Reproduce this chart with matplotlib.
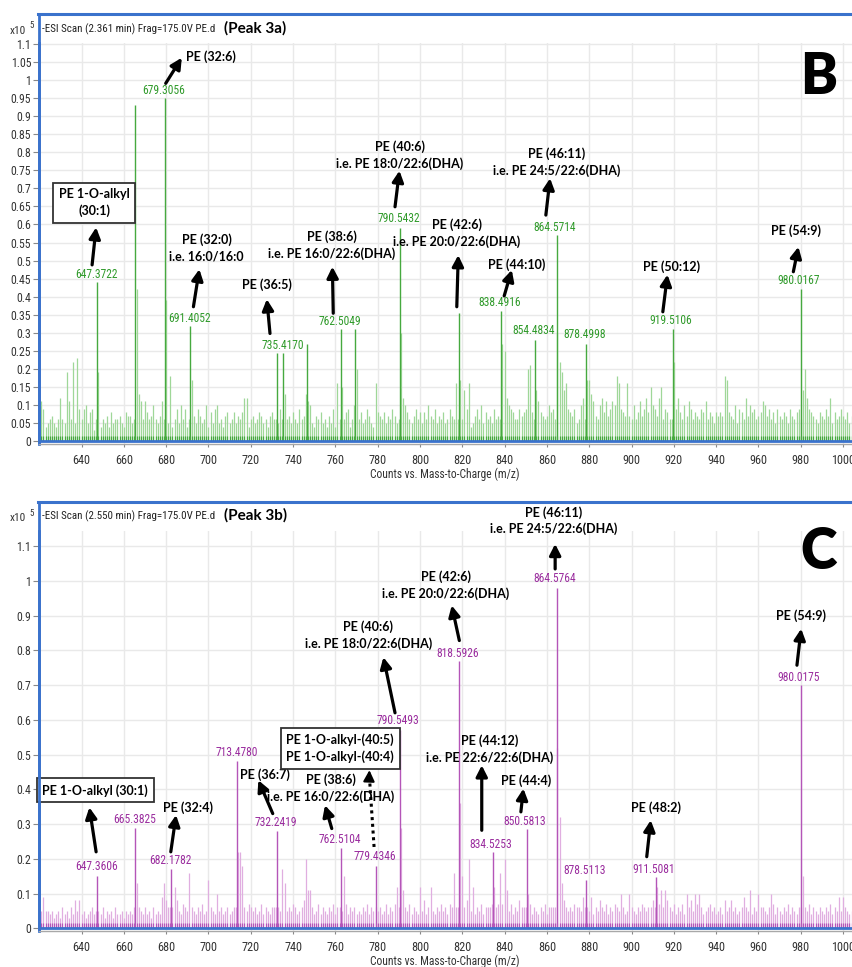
import matplotlib
matplotlib.use('Agg')
import matplotlib.pyplot as plt
from matplotlib import font_manager
from matplotlib.lines import Line2D
from matplotlib.ticker import FuncFormatter

# ---------------- DATA ----------------
noise_first_mz = 621   # nominal mass of first noise entry (one entry per nominal mass)

# Panel B (Peak 3a) background/noise peak heights, in units of 0.01 x10^5 counts, m/z 621..1004
noise_B = [
    11, 9, 4, 5, 6, 7, 5, 4, 6, 12,
    6, 5, 19, 11, 6, 22, 5, 23, 9, 6,
    9, 10, 5, 8, 9, 3, 6, 19, 4, 6,
    5, 7, 4, 8, 5, 6, 6, 7, 5, 4,
    8, 7, 7, 5, 6, 42, 13, 11, 6, 11,
    8, 6, 7, 10, 6, 5, 7, 11, 6, 39,
    5, 18, 4, 6, 9, 5, 10, 6, 9, 4,
    6, 17, 7, 5, 9, 7, 5, 6, 10, 4,
    8, 5, 9, 10, 5, 6, 4, 7, 8, 5,
    6, 8, 5, 7, 6, 8, 12, 12, 4, 6,
    7, 5, 6, 8, 7, 5, 6, 4, 7, 8,
    6, 6, 5, 9, 6, 13, 6, 7, 5, 8,
    6, 5, 9, 6, 7, 13, 11, 10, 5, 4,
    7, 6, 8, 5, 6, 4, 7, 5, 9, 4,
    16, 6, 15, 6, 8, 9, 4, 6, 10, 20,
    6, 8, 5, 6, 9, 7, 5, 4, 16, 8,
    7, 6, 8, 5, 7, 6, 9, 7, 5, 6,
    30, 12, 10, 8, 6, 5, 7, 9, 6, 8,
    5, 8, 6, 10, 7, 6, 9, 5, 7, 6,
    8, 5, 6, 9, 7, 6, 16, 6, 17, 6,
    14, 9, 16, 4, 5, 7, 9, 6, 10, 5,
    8, 6, 7, 5, 9, 6, 7, 6, 27, 25,
    12, 10, 9, 8, 6, 6, 9, 7, 8, 9,
    20, 21, 8, 6, 14, 11, 8, 7, 6, 7,
    10, 8, 9, 6, 30, 22, 19, 14, 16, 9,
    8, 7, 9, 5, 6, 10, 12, 6, 17, 17,
    13, 11, 7, 6, 10, 12, 8, 11, 7, 9,
    11, 10, 18, 16, 9, 8, 7, 16, 7, 6,
    10, 6, 8, 11, 7, 9, 12, 8, 15, 10,
    9, 7, 12, 15, 6, 9, 8, 6, 6, 22,
    9, 12, 8, 6, 10, 7, 11, 9, 6, 8,
    7, 6, 9, 8, 11, 6, 8, 7, 5, 8,
    7, 8, 7, 18, 17, 8, 7, 6, 10, 5,
    9, 8, 6, 12, 7, 10, 8, 9, 6, 7,
    8, 11, 10, 7, 9, 6, 8, 5, 9, 7,
    6, 8, 7, 5, 9, 7, 6, 8, 9, 6,
    14, 20, 12, 9, 8, 7, 6, 5, 8, 7,
    6, 9, 7, 12, 5, 8, 6, 7, 9, 7,
    6, 8, 5, 7,
]

# Panel C (Peak 3b) background/noise peak heights, same units, m/z 621..1004
noise_C = [
    5, 9, 5, 5, 4, 5, 3, 4, 5, 3,
    6, 4, 5, 3, 6, 4, 8, 5, 8, 4,
    5, 3, 4, 5, 6, 4, 5, 5, 4, 6,
    3, 5, 4, 5, 3, 6, 4, 4, 5, 3,
    5, 4, 5, 4, 6, 13, 6, 5, 4, 6,
    4, 5, 3, 6, 4, 5, 4, 9, 13, 8,
    6, 6, 6, 12, 8, 5, 4, 7, 6, 5,
    16, 6, 5, 4, 6, 5, 7, 4, 5, 14,
    6, 5, 4, 10, 5, 6, 4, 5, 6, 4,
    5, 6, 6, 22, 22, 18, 6, 5, 7, 6,
    5, 6, 4, 5, 7, 4, 6, 5, 4, 6,
    6, 6, 6, 5, 17, 13, 5, 6, 5, 7,
    6, 4, 5, 6, 8, 20, 11, 11, 6, 4,
    5, 7, 4, 6, 5, 4, 6, 5, 7, 4,
    6, 6, 5, 15, 7, 4, 6, 5, 6, 4,
    5, 4, 6, 5, 7, 4, 6, 5, 6, 5,
    6, 4, 5, 7, 4, 6, 5, 7, 12, 6,
    29, 11, 6, 5, 7, 4, 6, 5, 4, 12,
    5, 8, 4, 6, 12, 5, 4, 6, 5, 7,
    5, 6, 4, 7, 6, 16, 6, 6, 36, 15,
    6, 8, 20, 5, 12, 4, 6, 5, 7, 4,
    6, 6, 6, 7, 12, 6, 7, 16, 7, 20,
    11, 5, 7, 4, 6, 5, 8, 6, 6, 6,
    10, 7, 4, 6, 5, 4, 6, 5, 7, 4,
    6, 6, 6, 6, 52, 32, 13, 8, 6, 5,
    6, 5, 7, 6, 6, 5, 9, 6, 6, 5,
    9, 4, 6, 5, 8, 6, 5, 7, 4, 6,
    5, 7, 6, 5, 10, 6, 4, 5, 10, 6,
    5, 4, 6, 5, 7, 6, 5, 6, 6, 8,
    6, 12, 7, 11, 6, 11, 8, 6, 5, 7,
    4, 6, 5, 7, 4, 10, 6, 8, 5, 10,
    7, 10, 6, 4, 5, 6, 7, 5, 6, 4,
    5, 6, 4, 8, 5, 6, 8, 5, 6, 4,
    5, 6, 9, 6, 5, 11, 4, 6, 5, 10,
    6, 6, 5, 4, 6, 10, 7, 4, 6, 5,
    4, 6, 5, 7, 4, 6, 5, 4, 6, 6,
    15, 6, 5, 7, 4, 6, 5, 4, 6, 5,
    4, 6, 5, 7, 4, 6, 5, 9, 5, 9,
    6, 5, 4, 5,
]

# Main peaks (m/z, intensity x10^5) and whether their m/z is printed
peaks_B_mz = [647.3722, 665.40, 679.3056, 691.4052, 732.50, 735.4170, 746.60,
              762.5049, 769.50, 790.5432, 818.60, 838.4916, 854.4834, 864.5714,
              878.4998, 919.5106, 980.0167]
peaks_B_h = [0.44, 0.93, 0.95, 0.32, 0.245, 0.245, 0.27,
             0.31, 0.31, 0.59, 0.355, 0.36, 0.28, 0.57,
             0.27, 0.31, 0.42]
peaks_B_labeled = [True, False, True, True, False, True, False,
                   True, False, True, False, True, True, True,
                   True, True, True]

peaks_C_mz = [647.3606, 665.3825, 682.1782, 713.4780, 732.2419, 762.5104, 779.4346,
              790.5493, 818.5926, 834.5253, 850.5813, 864.5764, 878.5113, 911.5081,
              980.0175]
peaks_C_h = [0.15, 0.29, 0.17, 0.48, 0.28, 0.23, 0.18,
             0.57, 0.77, 0.22, 0.285, 0.98, 0.14, 0.147,
             0.70]
peaks_C_labeled = [True] * 15

x_ticks = [640, 660, 680, 700, 720, 740, 760, 780, 800, 820, 840, 860, 880, 900,
           920, 940, 960, 980, 1000]
y_ticks_B = [0, 0.05, 0.1, 0.15, 0.2, 0.25, 0.3, 0.35, 0.4, 0.45, 0.5, 0.55, 0.6,
             0.65, 0.7, 0.75, 0.8, 0.85, 0.9, 0.95, 1, 1.05, 1.1]
y_ticks_C = [0, 0.1, 0.2, 0.3, 0.4, 0.5, 0.6, 0.7, 0.8, 0.9, 1, 1.1]

# --------------- STYLE / LAYOUT ---------------
available = {f.name for f in font_manager.fontManager.ttflist}
def pick(*names):
    for n in names:
        if n in available:
            return n
    return 'DejaVu Sans'
NARROW = pick('Liberation Sans Narrow', 'Arial Narrow', 'Roboto Condensed', 'Liberation Sans')
BOLD = pick('Lato', 'Open Sans', 'Liberation Sans')

W, H = 853, 967
BLUE = '#3a72cc'
def fx(px):
    return px / W
def fy(py):
    return 1 - py / H

fig = plt.figure(figsize=(W / 100, H / 100), dpi=100)
fig.patch.set_facecolor('white')

def setup_axes(top_px, bot_px, ylim, yticks):
    ax = fig.add_axes([fx(39), fy(bot_px), fx(853 - 39), (bot_px - top_px) / H])
    ax.set_xlim(619.9, 1004.7)
    ax.set_ylim(*ylim)
    ax.set_xticks(x_ticks)
    ax.set_yticks(yticks)
    ax.yaxis.set_major_formatter(FuncFormatter(lambda v, p: '%g' % round(v, 3)))
    ax.grid(True, color='#e9e9e9', lw=1.0, zorder=0)
    ax.set_axisbelow(True)
    for s in ['top', 'right']:
        ax.spines[s].set_visible(False)
    ax.spines['left'].set_color(BLUE)
    ax.spines['left'].set_linewidth(2.0)
    ax.spines['bottom'].set_color('#a8a8a8')
    ax.spines['bottom'].set_linewidth(1.0)
    ax.tick_params(axis='y', length=4, width=0.8, color='#888888', pad=1.5,
                   labelsize=8.5, labelcolor='#333333')
    ax.tick_params(axis='x', length=2, width=0.8, color='#888888', pad=5,
                   labelsize=8.8, labelcolor='#333333')
    for lab in ax.get_xticklabels() + ax.get_yticklabels():
        lab.set_family(NARROW)
    return ax

def draw_spectrum(ax, noise, pk_mz, pk_h, light, dark):
    n_mz = [noise_first_mz + i for i in range(len(noise))]
    n_h = [v / 100.0 for v in noise]
    ax.vlines(n_mz, 0, n_h, colors=light, lw=0.9, zorder=2)
    ax.vlines(n_mz, 0, [min(v, 0.015) for v in n_h], colors=dark, lw=0.9, zorder=2)
    ax.vlines(pk_mz, 0, pk_h, colors=dark, lw=1.0, zorder=3)
    ax.axhline(0, color=BLUE, lw=2.0, zorder=4)

def arrow(ax, head, tail, dotted=False):
    if dotted:
        ax.plot([tail[0], head[0]], [tail[1], head[1] - 0.02], ls=(0, (1, 1.2)),
                color='black', lw=2.2, zorder=6)
        ax.annotate('', xy=head, xytext=(head[0] - 0.2, head[1] - 0.03),
                    arrowprops=dict(arrowstyle='-|>,head_length=0.55,head_width=0.28',
                                    color='black', lw=1.5, shrinkA=0, shrinkB=0,
                                    mutation_scale=12), zorder=6)
    else:
        ax.annotate('', xy=head, xytext=tail,
                    arrowprops=dict(arrowstyle='-|>,head_length=0.55,head_width=0.28',
                                    color='black', lw=2.3, shrinkA=0, shrinkB=0,
                                    mutation_scale=12), zorder=6)

def note(ax, text, pos, boxed=False, size=9.0):
    kw = dict(ha='center', va='center', fontsize=size, fontweight='bold',
              family=BOLD, color='black', linespacing=1.4, zorder=7, clip_on=False)
    if boxed:
        kw['bbox'] = dict(boxstyle='square,pad=0.45', fc='white', ec='#333333', lw=1.3)
    ax.text(pos[0], pos[1], text, **kw)

def value_labels(ax, pk_mz, flags, positions, color):
    k = 0
    for mz, f in zip(pk_mz, flags):
        if f:
            x, y = positions[k]
            ax.text(x, y, '%.4f' % mz, ha='center', va='center', fontsize=8.3,
                    family=NARROW, color=color, zorder=5)
            k += 1

def header(y_px, scan, peak):
    fig.text(fx(10), fy(y_px + 2), 'x10', ha='left', va='center', fontsize=8.2,
             family=NARROW, color='#333333')
    fig.text(fx(29), fy(y_px - 3), '5', ha='left', va='center', fontsize=6.5,
             family=NARROW, color='#333333')
    fig.text(fx(42), fy(y_px), scan, ha='left', va='center', fontsize=7.9,
             family=NARROW, color='#222222')
    fig.text(fx(224), fy(y_px - 1), peak, ha='left', va='center', fontsize=11,
             fontweight='bold', family=BOLD, color='black')

def frame(top_px, bot_px):
    fig.add_artist(Line2D([fx(38), fx(853)], [fy(top_px), fy(top_px)], color=BLUE, lw=2.2))
    fig.add_artist(Line2D([fx(39), fx(39)], [fy(top_px), fy(bot_px)], color=BLUE, lw=2.0))

# ---------------- PANEL B ----------------
GREEN_LIGHT = '#9fd798'
GREEN_DARK = '#46a93f'
GREEN_TXT = '#2f9a2a'
axB = setup_axes(43, 444, (-0.0083, 1.1028), y_ticks_B)
draw_spectrum(axB, noise_B, peaks_B_mz, peaks_B_h, GREEN_LIGHT, GREEN_DARK)
value_labels(axB, peaks_B_mz, peaks_B_labeled,
             [(647.2, 0.46), (678.7, 0.972), (691.3, 0.34), (735.1, 0.266),
              (762.2, 0.33), (789.8, 0.617), (837.5, 0.383), (853.6, 0.306),
              (863.5, 0.591), (877.6, 0.294), (918.6, 0.333), (978.9, 0.446)],
             GREEN_TXT)
notes_B = [
    ("PE (32:6)", (701.2, 1.065), (687.4, 1.062), (679.8, 0.991), False),
    ("PE 1-O-alkyl\n(30:1)", (645.9, 0.66), (646.9, 0.592), (645.0, 0.488), True),
    ("PE (32:0)\ni.e. 16:0/16:0", (699.2, 0.535), (695.7, 0.476), (692.9, 0.372), False),
    ("PE (36:5)", (727.6, 0.432), (727.6, 0.393), (729.1, 0.298), False),
    ("PE (38:6)\ni.e. PE 16:0/22:6(DHA)", (758.3, 0.543), (758.6, 0.483), (759.0, 0.354), False),
    ("PE (40:6)\ni.e. PE 18:0/22:6(DHA)", (790.6, 0.792), (790.3, 0.749), (788.2, 0.649), False),
    ("PE (42:6)\ni.e. PE 20:0/22:6(DHA)", (817.5, 0.576), (818.1, 0.515), (817.4, 0.372), False),
    ("PE (44:10)", (845.8, 0.49), (843.4, 0.474), (839.8, 0.402), False),
    ("PE (46:11)\ni.e. PE 24:5/22:6(DHA)", (864.7, 0.773), (861.5, 0.728), (859.5, 0.626), False),
    ("PE (50:12)", (919.1, 0.483), (917.0, 0.461), (914.8, 0.358), False),
    ("PE (54:9)", (977.8, 0.584), (978.9, 0.538), (976.5, 0.469), False),
]
for txt, tpos, head, tail, boxed in notes_B:
    arrow(axB, head, tail)
    note(axB, txt, tpos, boxed)
axB.text(988.4, 1.009, 'B', ha='center', va='center', fontsize=40, fontweight='heavy',
         family=BOLD, color='black', zorder=7)
frame(14, 442)
header(29, '-ESI Scan (2.361 min) Frag=175.0V PE.d', '(Peak 3a)')
fig.text(fx(445), fy(474), 'Counts vs. Mass-to-Charge (m/z)', ha='center', va='center',
         fontsize=8.3, family=NARROW, color='#333333')

# ---------------- PANEL C ----------------
PURP_LIGHT = '#e0aee0'
PURP_DARK = '#b455b8'
PURP_TXT = '#9a2c9e'
axC = setup_axes(531, 931, (-0.0078, 1.1432), y_ticks_C)
draw_spectrum(axC, noise_C, peaks_C_mz, peaks_C_h, PURP_LIGHT, PURP_DARK)
value_labels(axC, peaks_C_mz, peaks_C_labeled,
             [(647.2, 0.177), (665.3, 0.314), (681.8, 0.194), (713.4, 0.506),
              (732.0, 0.303), (762.2, 0.256), (778.8, 0.208), (789.8, 0.599),
              (817.7, 0.792), (833.6, 0.242), (849.7, 0.308), (863.5, 1.007),
              (877.6, 0.166), (910.4, 0.168), (978.9, 0.723)],
             PURP_TXT)
notes_C = [
    ("PE 1-O-alkyl (30:1)", (646.5, 0.397), (643.7, 0.348), (646.9, 0.22), True),
    ("PE (32:4)", (690.5, 0.348), (684.7, 0.326), (682.2, 0.22), False),
    ("PE (36:7)", (726.8, 0.443), (723.6, 0.426), (730.4, 0.33), False),
    ("PE (38:6)\ni.e. PE 16:0/22:6(DHA)", (757.8, 0.403), (755.1, 0.354), (758.3, 0.287), False),
    ("PE (40:6)\ni.e. PE 18:0/22:6(DHA)", (775.6, 0.844), (782.7, 0.78), (788.2, 0.62), False),
    ("PE (42:6)\ni.e. PE 20:0/22:6(DHA)", (812.3, 0.988), (815.0, 0.929), (818.6, 0.828), False),
    ("PE (46:11)\ni.e. PE 24:5/22:6(DHA)", (863.4, 1.173), (863.9, 1.106), (863.9, 1.034), False),
    ("PE (44:12)\ni.e. PE 22:6/22:6(DHA)", (832.8, 0.516), (829.2, 0.469), (829.2, 0.282), False),
    ("PE (44:4)", (850.2, 0.426), (848.9, 0.402), (847.7, 0.335), False),
    ("PE (48:2)", (911.6, 0.348), (909.1, 0.311), (907.2, 0.206), False),
    ("PE (54:9)", (980.0, 0.90), (980.2, 0.862), (978.2, 0.757), False),
]
for txt, tpos, head, tail, boxed in notes_C:
    arrow(axC, head, tail)
    note(axC, txt, tpos, boxed)
arrow(axC, (776.1, 0.455), (778.3, 0.234), dotted=True)
note(axC, "PE 1-O-alkyl-(40:5)\nPE 1-O-alkyl-(40:4)", (762.2, 0.518), boxed=True)
axC.text(988.4, 1.082, 'C', ha='center', va='center', fontsize=40, fontweight='heavy',
         family=BOLD, color='black', zorder=7)
frame(502, 929)
header(516, '-ESI Scan (2.550 min) Frag=175.0V PE.d', '(Peak 3b)')
fig.text(fx(445), fy(961), 'Counts vs. Mass-to-Charge (m/z)', ha='center', va='center',
         fontsize=8.3, family=NARROW, color='#333333')

fig.savefig('out.png', dpi=100, facecolor='white')
